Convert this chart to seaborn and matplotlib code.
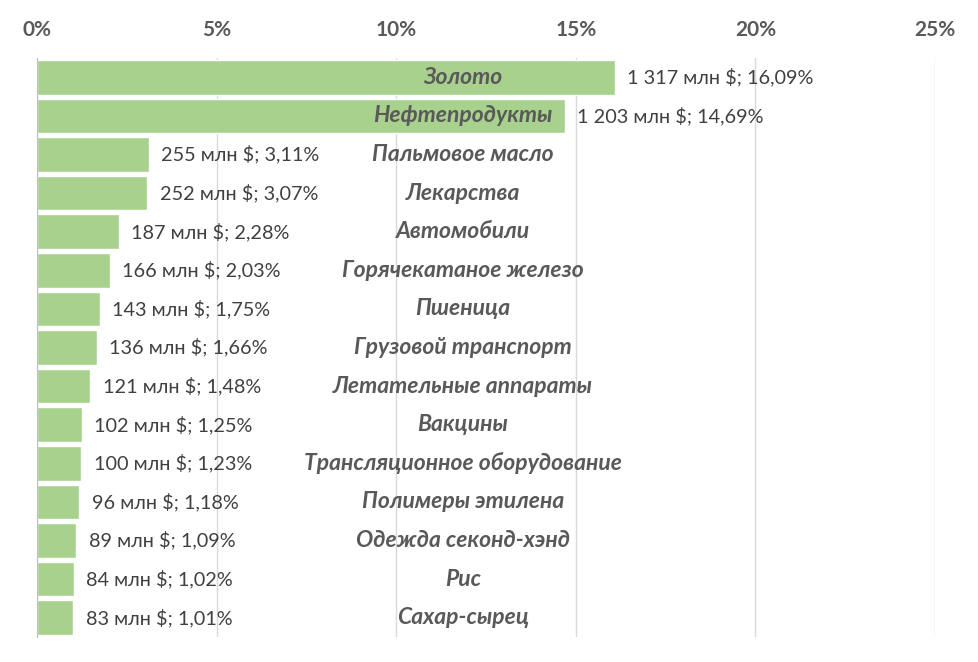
import numpy as np
import pandas as pd
import matplotlib
matplotlib.use("Agg")
import matplotlib.pyplot as plt
import seaborn as sns

products = ["Золото", "Нефтепродукты", "Пальмовое масло", "Лекарства", "Автомобили",
            "Горячекатаное железо", "Пшеница", "Грузовой транспорт", "Летательные аппараты",
            "Вакцины", "Трансляционное оборудование", "Полимеры этилена",
            "Одежда секонд-хэнд", "Рис", "Сахар-сырец"]
shares = [16.09, 14.69, 3.11, 3.07, 2.28, 2.03, 1.75, 1.66, 1.48, 1.25, 1.23, 1.18, 1.09, 1.02, 1.01]
amounts = [1317, 1203, 255, 252, 187, 166, 143, 136, 121, 102, 100, 96, 89, 84, 83]
x_ticks = [0, 5, 10, 15, 20, 25]

df = pd.DataFrame({"product": products, "share": shares, "amount": amounts})

sns.set_style("white")
plt.rcParams["font.family"] = ["Lato", "DejaVu Sans"]

fig = plt.figure(figsize=(9.79, 6.62), dpi=100)
ax = fig.add_axes([0.0378, 0.0378, 0.9172, 0.8746])

sns.barplot(data=df, y="product", x="share", orient="h", color="#A9D18E",
            saturation=1, width=0.9, ax=ax, zorder=2)

ax.set_xlim(0, 25)
ax.set_ylim(len(products) - 0.5, -0.5)
ax.set_xticks(x_ticks)
ax.set_xticklabels([f"{t}%" for t in x_ticks], fontsize=15, fontweight="bold", color="#595959")
ax.xaxis.tick_top()
ax.tick_params(axis="x", length=0, pad=13)
ax.set_yticks(np.arange(-0.5, len(products)))
ax.set_yticklabels([])
ax.tick_params(axis="y", direction="out", length=5, color="#BFBFBF", width=1)
ax.grid(axis="x", color="#D9D9D9", linewidth=1, zorder=0)
ax.set_xlabel("")
ax.set_ylabel("")
for side in ["top", "right", "bottom"]:
    ax.spines[side].set_visible(False)
ax.spines["left"].set_color("#BFBFBF")

for i, (s, a) in enumerate(zip(shares, amounts)):
    amt = f"{a:,}".replace(",", " ")
    pct = f"{s:.2f}".replace(".", ",")
    ax.text(s + 0.35, i, f"{amt} млн $; {pct}%", va="center", ha="left",
            fontsize=14.3, color="#404040")
    ax.text(11.86, i, products[i], va="center", ha="center", fontsize=16.5,
            fontweight="bold", fontstyle="italic", color="#595959", zorder=3)

fig.savefig("out.png", dpi=100)
